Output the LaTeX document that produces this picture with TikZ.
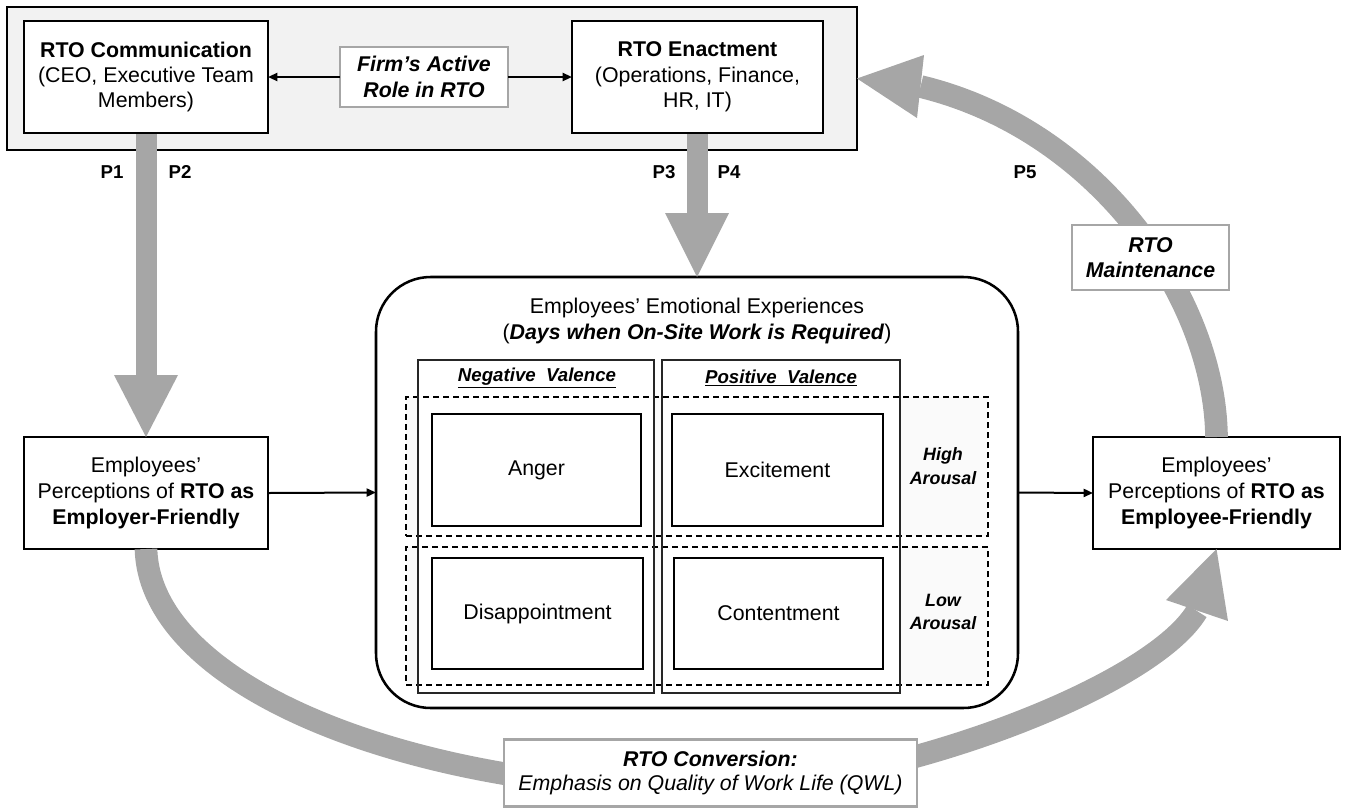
\documentclass[tikz,border=0pt]{standalone}
\usepackage{fontspec}
\setmainfont{Liberation Sans}
\usetikzlibrary{arrows.meta,calc}
\definecolor{arrowgray}{HTML}{A6A6A6}
\definecolor{panelgray}{HTML}{F2F2F2}
\definecolor{zonegray}{HTML}{FAFAFA}
\def\pxu{0.75pt}
\newcommand{\basefont}{\fontsize{16pt}{19pt}\selectfont}
\newcommand{\sidefont}{\fontsize{16pt}{19.5pt}\selectfont}
\newcommand{\smallbf}{\fontsize{14pt}{17pt}\selectfont\bfseries}
\newcommand{\arousalfont}{\fontsize{13.4pt}{17.5pt}\selectfont\bfseries\itshape}
\begin{document}
\begin{tikzpicture}[x=0.75pt,y=-0.75pt,
  blackbox/.style={draw=black,line width=2.2pt,fill=white,align=center,inner sep=0pt,outer sep=0pt,font=\basefont},
  graybox/.style={draw=arrowgray,line width=2pt,fill=white,align=center,inner sep=0pt,outer sep=0pt,font=\basefont},
  panelbox/.style={draw=black,line width=1.6pt,fill=panelgray,inner sep=0pt,outer sep=0pt},
  bigbox/.style={draw=black,line width=1.9pt,fill=white,rounded corners=41pt,inner sep=0pt,outer sep=0pt},
  colbox/.style={draw=black!85,line width=0.9pt,inner sep=0pt,outer sep=0pt},
  zonebox/.style={draw=black,line width=0.8pt,dash pattern=on 4.5pt off 3pt,inner sep=0pt,outer sep=0pt},
  emobox/.style={draw=black,line width=2.2pt,fill=white,inner sep=0pt,outer sep=0pt,font=\basefont},
  plabel/.style={font=\smallbf,inner sep=0pt},
  thinarrow/.style={line width=1.5pt,-{Triangle[length=7pt 0,width=6pt 0]}},
  band/.style={draw=arrowgray,line width=15.75pt},
  cband/.style={draw=arrowgray,line width=17pt},
  head/.style={fill=arrowgray}
]
\path[use as bounding box] (0,0) rectangle (1346,808);

% top panel
\node[panelbox,minimum width=850*\pxu,minimum height=143*\pxu] (panel) at (432,78.5) {};

% straight grey arrows
\draw[band] (146,133) -- (146,376);
\draw[band] (697,133) -- (697,214);

% top boxes
\node[blackbox,minimum width=244*\pxu,minimum height=112*\pxu] (comm) at (146,77)
  {\textbf{RTO Communication}\\(CEO, Executive Team\\Members)};
\node[graybox,minimum width=168*\pxu,minimum height=60*\pxu] (firm) at (424,77)
  {\textbf{\textit{Firm’s Active}}\\\textbf{\textit{Role in RTO}}};
\node[blackbox,minimum width=251*\pxu,minimum height=112*\pxu] (enact) at (697.5,77)
  {\textbf{RTO Enactment}\\(Operations, Finance,\\HR, IT)};
\draw[thinarrow] (firm.west) -- (comm.east);
\draw[thinarrow] (firm.east) -- (enact.west);

% P labels
\node[plabel] (p1) at (112,172) {P1};
\node[plabel] (p2) at (180,172) {P2};
\node[plabel] (p3) at (664,172) {P3};
\node[plabel] (p4) at (729,172) {P4};
\node[plabel] (p5) at (1025,172) {P5};

% side boxes
\node[blackbox,font=\sidefont,minimum width=244*\pxu,minimum height=112*\pxu] (employer) at (146,493)
  {Employees’\\Perceptions of \textbf{RTO as}\\\textbf{Employer-Friendly}};
\node[blackbox,font=\sidefont,minimum width=247*\pxu,minimum height=112*\pxu] (employee) at (1216.5,493)
  {Employees’\\Perceptions of \textbf{RTO as}\\\textbf{Employee-Friendly}};

% big rounded box
\node[bigbox,minimum width=642*\pxu,minimum height=431*\pxu] (big) at (697,492.5) {};

% heads of straight arrows
\fill[head] (114,375) -- (178,375) -- (employer.north) -- cycle;
\fill[head] (665,213) -- (729,213) -- (big.north) -- cycle;

% curved bands
\draw[cband] (employer.south) .. controls (150,690) and (420,790) .. (700,790)
  .. controls (880,790) and (1150,690) .. (1197,611);
\fill[head] (employee.south) -- (1166,600) -- (1228,621) -- cycle;
\draw[cband] (employee.north) .. controls (1215,300) and (1100,130) .. (920.5,86.5);
\fill[head] (panel.east) -- (924,55) -- (917,118) -- cycle;

% label boxes on bands
\node[graybox,minimum width=157*\pxu,minimum height=65*\pxu] (maint) at (1150.5,257.5)
  {\textbf{\textit{RTO}}\\\textbf{\textit{Maintenance}}};
\node[graybox,minimum width=413*\pxu,minimum height=67*\pxu,font=\fontsize{16pt}{18pt}\selectfont] (conv) at (710.5,773)
  {\textbf{\textit{RTO Conversion:}}\\\textit{Emphasis on Quality of Work Life (QWL)}};

% thin arrows to/from big box
\draw[thinarrow] (employer.east) -- (big.west);
\draw[thinarrow] (big.east) -- (employee.west);

% inside big box
\node[font=\fontsize{16pt}{19.5pt}\selectfont,align=center,inner sep=0pt] (title) at (697,321)
  {Employees’ Emotional Experiences\\(\textbf{\textit{Days when On-Site Work is Required}})};
\node[fill=zonegray,minimum width=582*\pxu,minimum height=139*\pxu,inner sep=0pt] (highz) at (697,466.5) {};
\node[fill=zonegray,minimum width=582*\pxu,minimum height=138*\pxu,inner sep=0pt] (lowz) at (697,616) {};
\node[colbox,fill=white,minimum width=236*\pxu,minimum height=333*\pxu] (negcol) at (536,526.5) {};
\node[colbox,fill=white,minimum width=238*\pxu,minimum height=333*\pxu] (poscol) at (781,526.5) {};
\node[zonebox,minimum width=582*\pxu,minimum height=139*\pxu] (highd) at (697,466.5) {};
\node[zonebox,minimum width=582*\pxu,minimum height=138*\pxu] (lowd) at (697,616) {};
\node[colbox,minimum width=236*\pxu,minimum height=333*\pxu] (negcolb) at (536,526.5) {};
\node[colbox,minimum width=238*\pxu,minimum height=333*\pxu] (poscolb) at (781,526.5) {};

\node[font=\smallbf\itshape,inner sep=0pt] (neglab) at (537,378) {\underline{Negative\ \ Valence}};
\node[font=\smallbf\itshape,inner sep=0pt] (poslab) at (781,378) {\underline{Positive\ \ Valence}};

\node[emobox,minimum width=209*\pxu,minimum height=112*\pxu] (anger) at (536.5,470) {Anger};
\node[emobox,minimum width=211*\pxu,minimum height=112*\pxu] (excite) at (777.5,470) {Excitement};
\node[emobox,minimum width=211*\pxu,minimum height=111*\pxu] (disap) at (537.5,613.5) {Disappointment};
\node[emobox,minimum width=209*\pxu,minimum height=111*\pxu] (content) at (778.5,613.5) {Contentment};

\node[font=\arousalfont,align=center,inner sep=0pt] (high) at (943,466) {High\\Arousal};
\node[font=\arousalfont,align=center,inner sep=0pt] (low) at (943,612) {Low\\Arousal};
\end{tikzpicture}
\end{document}
